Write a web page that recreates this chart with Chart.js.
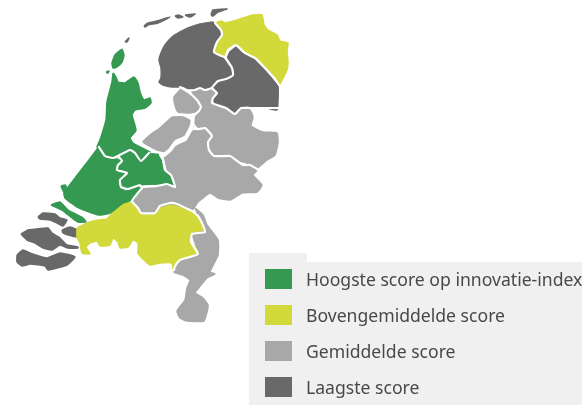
<!DOCTYPE html>
<html>
<head>
<meta charset="utf-8">
<title>Innovatie-index per provincie</title>
<script src="https://cdn.jsdelivr.net/npm/chart.js@4"></script>
<style>
    html, body { margin: 0; padding: 0; background: #fff; }
    #wrap { position: relative; width: 582px; height: 405px; overflow: hidden; font-family: "Noto Sans", sans-serif; }
    #mapChart { position: absolute; left: 0; top: 0; }
    .panel { position: absolute; background: #f0f0f0; }
    #legend { position: absolute; left: 265px; top: 0; }
    .row { position: absolute; left: 0; white-space: nowrap; color: #484848; font-size: 17.6px; line-height: 20px; }
    .swatch { position: absolute; left: 0; top: 0; width: 27px; height: 20px; }
    .row span { position: absolute; left: 41px; top: 0; }
</style>
</head>
<body>
<div id="wrap">
    <div class="panel" style="left:249px;top:253px;width:58px;height:152px"></div>
    <div class="panel" style="left:307px;top:262px;width:275px;height:143px"></div>
    <canvas id="mapChart" width="582" height="405"></canvas>
    <div id="legend"></div>
</div>
<script>
// Score classes
const categories = ['Hoogste score op innovatie-index', 'Bovengemiddelde score', 'Gemiddelde score', 'Laagste score'];
const classColors = ['#359951', '#d2d93a', '#a8a8a8', '#696969'];

// Province outlines, in map units
const friesland = [[212,22],[200,24],[188,28],[180,32],[172,37],[165,45],[161,53],[159,60],[161,68],[161,78],[159,82],[163,85],[172,87],[180,87],[188,90],[195,90],[200,87],[205,89],[212,86],[218,80],[225,79],[232,75],[233,70],[228,65],[223,58],[213,52],[217,42],[222,33],[218,27],[215,23]];
const groningen = [[216,23],[221,21],[225,23],[237,20],[253,15],[262,15],[264,25],[268,30],[277,35],[280,41],[288,43],[287,50],[288,62],[287,70],[279,85],[275,78],[263,65],[255,57],[245,52],[236,44],[228,50],[225,57],[215,52],[218,42],[223,33],[220,28]];
const drenthe = [[236,47],[242,53],[252,57],[263,68],[273,80],[278,86],[277,110],[267,108],[257,108],[248,106],[240,107],[235,113],[227,107],[215,103],[213,98],[218,93],[213,87],[220,82],[227,80],[233,75],[233,68],[227,60],[230,52]];
const noordoostpolder = [[182,88],[188,93],[197,100],[200,107],[197,112],[187,113],[178,112],[175,105],[174,97]];
const flevoland = [[172,117],[183,117],[192,122],[193,127],[187,135],[177,140],[170,147],[168,152],[157,150],[143,142],[150,135],[160,128]];
const overijssel = [[212,88],[215,93],[213,98],[212,104],[227,110],[235,115],[242,109],[250,110],[253,117],[251,126],[263,132],[277,133],[278,143],[275,155],[267,160],[257,168],[247,163],[237,160],[230,155],[223,157],[213,155],[209,148],[208,140],[213,135],[205,127],[199,128],[193,120],[197,115],[202,108],[198,100],[192,92],[200,89],[205,92]];
const gelderland = [[164,155],[170,153],[175,147],[187,141],[193,131],[199,131],[205,129],[211,136],[207,143],[210,153],[215,157],[230,157],[235,160],[242,165],[248,165],[257,170],[253,175],[262,185],[257,192],[242,193],[230,200],[218,198],[210,193],[198,202],[192,210],[177,205],[170,204],[160,207],[155,213],[142,213],[138,207],[132,201],[137,198],[143,189],[147,187],[157,187],[167,185],[177,189],[173,177],[168,172]];
const noordHolland = [[113,73],[116,77],[118,82],[125,83],[134,77],[138,83],[140,92],[144,100],[150,98],[151,103],[145,108],[135,110],[132,115],[134,122],[136,130],[135,132],[130,138],[133,143],[150,152],[148,153],[141,161],[135,153],[130,151],[118,157],[113,158],[105,156],[99,148],[97,147],[100,140],[106,120],[107,102],[112,82]];
const utrecht = [[118,157],[130,152],[135,154],[140,162],[148,154],[160,155],[162,163],[165,172],[171,175],[175,187],[170,185],[163,184],[140,185],[128,189],[121,187],[120,180],[127,173],[117,170],[118,165],[122,162]];
const zuidHolland = [[98,148],[89,160],[64,193],[65,198],[77,207],[98,215],[110,213],[123,203],[132,200],[142,189],[140,187],[125,191],[119,184],[127,173],[117,170],[118,165],[121,160],[113,159],[105,156]];
const goeree = [[51,205],[60,202],[68,210],[83,218],[86,222],[78,222],[72,218],[62,210]];
const voorne = [[61,186],[65,185],[67,188],[64,192]];
const brabant = [[77,228],[87,223],[98,220],[107,219],[115,210],[125,203],[132,203],[138,210],[142,213],[155,213],[160,207],[170,204],[177,205],[192,212],[199,218],[203,230],[192,232],[191,242],[198,252],[182,258],[175,263],[173,269],[172,263],[160,263],[150,265],[142,258],[138,253],[138,243],[133,240],[128,247],[120,248],[118,242],[113,238],[110,245],[100,246],[97,241],[90,243],[86,247],[90,254],[82,253],[80,243],[77,237]];
const limburg = [[195,208],[203,215],[207,225],[218,240],[218,255],[210,272],[215,274],[207,278],[197,290],[195,293],[203,298],[208,305],[207,312],[204,321],[187,321],[180,318],[177,311],[185,300],[187,288],[190,280],[183,275],[174,272],[177,266],[182,260],[198,253],[192,233],[203,231],[199,218]];
const schouwen = [[38,217],[43,213],[55,214],[60,218],[67,220],[63,226],[57,223],[50,220],[40,219]];
const tholen = [[62,230],[70,227],[77,230],[77,237],[68,235],[63,233]];
const beveland = [[21,234],[28,230],[48,228],[52,233],[60,238],[67,245],[78,247],[78,248],[68,248],[60,245],[52,250],[43,248],[35,243],[27,240]];
const zeeuwsVlaanderen = [[17,255],[23,250],[30,253],[47,258],[60,253],[75,257],[67,265],[57,268],[48,270],[45,266],[30,264],[22,266],[17,262]];
const texel = [[122,49],[124,55],[122,62],[117,67],[113,68],[112,63],[115,55]];
const noorderhaaks = [[106,72],[109,71],[108,73]];
const vlieland = [[125,42],[129,38],[127,42]];
const terschelling = [[144,26],[148,23],[157,21],[170,17],[158,23],[148,25],[145,27]];
const ameland = [[175,16],[178,15],[183,17],[178,18]];
const schiermonnikoog = [[185,15],[195,14],[190,17]];
const rottum = [[211,15],[213,10],[227,9],[218,12],[213,16]];

// White province borders
const borderNorth = [[215,23],[221,30],[222,35],[217,42],[214,52],[225,57],[228,50],[236,45],[245,53],[255,58],[263,66],[275,79],[279,85]];
const borderDrenthe = [[225,57],[232,68],[233,75],[226,79],[218,81],[212,88],[217,93],[213,98],[212,103],[226,108],[235,114],[241,108],[250,108],[258,108],[267,108],[278,108]];
const borderFriesland = [[212,88],[205,90],[200,88],[195,90],[187,90],[180,87],[188,92],[197,100],[201,107],[198,112],[193,115]];
const borderFlevoRiver = [[193,115],[192,125],[186,137],[176,142],[170,150],[164,155]];
const borderOverijssel = [[193,128],[199,129],[205,128],[212,136],[208,142],[209,150],[214,156],[230,156],[236,160],[243,165],[250,165],[257,169]];
const borderUtrechtEast = [[160,155],[163,160],[165,170],[171,175],[175,187],[167,184],[157,186],[142,187]];
const borderZhGelderland = [[142,188],[132,201],[138,208],[141,213],[155,213],[160,206],[170,203],[177,204],[192,211]];
const borderNh = [[149,153],[141,161],[135,153],[130,150],[118,156],[113,158],[105,156],[99,147]];
const borderUtrechtWest = [[118,156],[122,161],[118,165],[117,170],[127,173],[120,180],[121,187],[128,189],[140,185],[142,188]];
const borderBrabantEast = [[192,211],[198,216],[202,223],[205,232],[192,234],[191,242],[198,254],[190,257],[180,260],[175,266],[174,270]];

// Which class each shape belongs to (index into categories)
const regions = [
    [friesland, 3], [groningen, 1], [drenthe, 3], [noordoostpolder, 2], [flevoland, 2],
    [overijssel, 2], [gelderland, 2], [noordHolland, 0], [utrecht, 0], [zuidHolland, 0],
    [goeree, 0], [voorne, 0], [brabant, 1], [limburg, 2], [schouwen, 3], [tholen, 3],
    [beveland, 3], [zeeuwsVlaanderen, 3], [texel, 0], [noorderhaaks, 0], [vlieland, 3],
    [terschelling, 3], [ameland, 3], [schiermonnikoog, 3], [rottum, 3]
];
const borders = [borderNorth, borderDrenthe, borderFriesland, borderOverijssel, borderUtrechtEast,
    borderZhGelderland, borderNh, borderUtrechtWest, borderBrabantEast];

function regionDataset(shape, classIndex) {
    const points = shape.map(p => ({ x: p[0], y: p[1] }));
    points.push(points[0]);
    return {
        data: points,
        showLine: true,
        fill: 'shape',
        backgroundColor: classColors[classIndex],
        borderColor: classColors[classIndex],
        borderWidth: 1.5,
        borderJoinStyle: 'round',
        pointRadius: 0,
        tension: 0.15,
        order: 2
    };
}

function borderDataset(line, width) {
    return {
        data: line.map(p => ({ x: p[0], y: p[1] })),
        showLine: true,
        fill: false,
        borderColor: '#ffffff',
        borderWidth: width,
        borderJoinStyle: 'round',
        borderCapStyle: 'round',
        pointRadius: 0,
        tension: 0.15,
        order: 1
    };
}

new Chart(document.getElementById('mapChart'), {
    type: 'scatter',
    data: {
        datasets: regions.map(r => regionDataset(r[0], r[1]))
            .concat(borders.map(b => borderDataset(b, 2.2)))
            .concat([borderDataset(borderFlevoRiver, 4)])
    },
    options: {
        responsive: false,
        animation: false,
        layout: { padding: 0 },
        scales: {
            x: { type: 'linear', display: false, min: 0, max: 582 },
            y: { type: 'linear', display: false, min: 0, max: 405, reverse: true }
        },
        plugins: {
            legend: { display: false },
            tooltip: { enabled: false }
        }
    }
});

// Legend in the grey box
const legendTops = [269, 305, 341, 377];
const legend = document.getElementById('legend');
categories.forEach((label, i) => {
    const row = document.createElement('div');
    row.className = 'row';
    row.style.top = legendTops[i] + 'px';
    row.innerHTML = '<div class="swatch" style="background:' + classColors[i] + '"></div><span>' + label + '</span>';
    legend.appendChild(row);
});
</script>
</body>
</html>
